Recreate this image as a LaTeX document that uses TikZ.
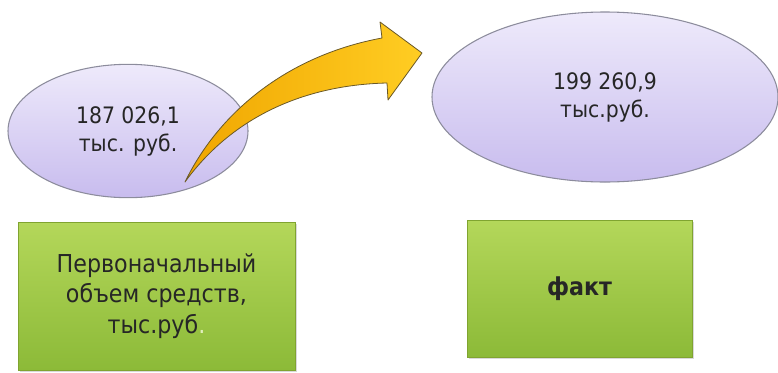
\documentclass[tikz,border=0pt]{standalone}
\usepackage{fontspec}
\setmainfont{DejaVu Sans}[FakeStretch=0.9]
\usetikzlibrary{shapes.geometric,shadows}
\definecolor{lilac}{RGB}{238,234,251}
\definecolor{lilacdark}{RGB}{200,188,238}
\definecolor{lilacline}{RGB}{140,140,156}
\definecolor{grass}{RGB}{180,215,90}
\definecolor{grassdark}{RGB}{140,186,56}
\definecolor{grassline}{RGB}{128,164,48}
\definecolor{amber}{RGB}{255,205,35}
\definecolor{amberdark}{RGB}{240,166,0}
\definecolor{amberline}{RGB}{105,88,40}

\begin{document}
\begin{tikzpicture}[x=0.75pt, y=-0.75pt,
    amount/.style = {ellipse, draw=lilacline, line width=0.8pt, top color=lilac, bottom color=lilacdark,
                     align=center, text=black!85, font=\fontsize{17}{21}\selectfont},
    stagebox/.style = {rectangle, draw=grassline, line width=0.6pt, top color=grass, bottom color=grassdark,
                       align=center, text=black!85, font=\fontsize{18.5}{23}\selectfont,
                       drop shadow={opacity=0.3, shadow xshift=1.5pt, shadow yshift=-1.5pt}},
    bigarrow/.style = {draw=amberline, line width=0.6pt, line join=round, left color=amberdark, right color=amber}]
  \useasboundingbox (0,0) rectangle (778,372);
  \node[amount, minimum width=180pt, minimum height=100pt] (plan) at (128,131) {187 026,1\\тыс. руб.};
  \node[amount, minimum width=259.5pt, minimum height=127.5pt] (fact) at (605,97) {199 260,9\\тыс.руб.};
  \node[stagebox, minimum width=207.75pt, minimum height=111pt] (planname) at (156.5,296)
    {Первоначальный\\объем средств,\\тыс.руб{\color{grass!40}.}};
  \node[stagebox, minimum width=168.75pt, minimum height=102.75pt, font=\fontsize{18.5}{23}\selectfont\bfseries]
    (factname) at (579.5,288.5) {факт};
  \coordinate (tail) at (185,182);
  \coordinate (tip) at (422,53);
  \draw[bigarrow] (tail) .. controls (220,110) and (290,55) .. (382,38) -- (380,22) -- (tip)
    -- (388,100) -- (387,83) .. controls (300,85) and (230,120) .. (tail) -- cycle;
\end{tikzpicture}
\end{document}
